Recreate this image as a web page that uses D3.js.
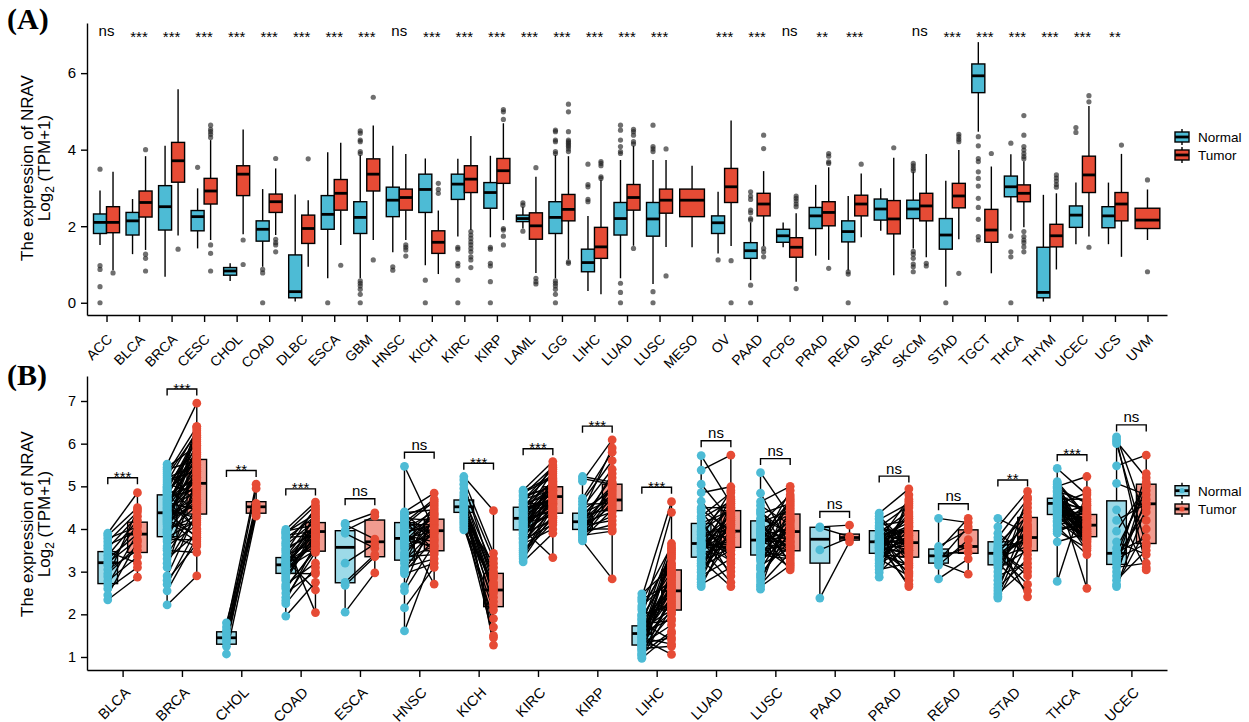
<!DOCTYPE html>
<html lang="en">
<head>
<meta charset="UTF-8">
<title>NRAV expression</title>
<script src="https://cdn.jsdelivr.net/npm/d3@7"></script>
<style>
    body { margin: 0; background: #fff; }
    svg text { font-family: "Liberation Sans", Arial, sans-serif; fill: #000; }
    .tag { font-family: "Liberation Serif", "Times New Roman", serif; font-weight: bold; }
</style>
</head>
<body>
<svg id="chart" width="1249" height="722"></svg>
<script>
// ---------- panel A : all TCGA cancers, unpaired ----------
var cancersA = ["ACC","BLCA","BRCA","CESC","CHOL","COAD","DLBC","ESCA","GBM","HNSC","KICH","KIRC","KIRP",
    "LAML","LGG","LIHC","LUAD","LUSC","MESO","OV","PAAD","PCPG","PRAD","READ","SARC","SKCM","STAD",
    "TGCT","THCA","THYM","UCEC","UCS","UVM"];

// [lower whisker, q1, median, q3, upper whisker]
var normalStatsA = [
    [1.51,1.81,2.10,2.32,2.93],[1.27,1.77,2.14,2.36,2.71],[0.68,1.90,2.51,3.06,4.10],[1.42,1.88,2.25,2.41,2.99],
    [0.57,0.72,0.83,0.92,1.03],[0.94,1.61,1.92,2.14,2.97],[0.03,0.13,0.29,1.25,2.83],[0.64,1.92,2.31,2.80,3.93],
    [0.64,1.81,2.23,2.64,3.86],[1.32,2.25,2.68,3.02,4.10],[0.98,2.36,2.96,3.36,3.77],[1.73,2.70,3.10,3.36,3.76],
    [1.71,2.47,2.88,3.14,3.84],[1.94,2.12,2.20,2.29,2.51],[0.64,1.81,2.23,2.64,3.86],[0.31,0.81,1.05,1.40,2.27],
    [0.64,1.77,2.20,2.62,3.73],[0.49,1.74,2.19,2.62,3.73],null,[1.29,1.81,2.09,2.27,2.90],
    [0.59,1.16,1.36,1.57,2.10],[1.45,1.58,1.75,1.92,2.10],[1.23,1.94,2.27,2.49,3.08],[0.84,1.59,1.86,2.14,2.79],
    [1.88,2.16,2.45,2.71,2.99],[1.42,2.20,2.45,2.68,3.43],[0.42,1.40,1.77,2.20,3.19],[4.47,5.49,5.93,6.24,6.81],
    [1.88,2.77,3.03,3.31,3.88],[0.03,0.13,0.27,1.45,2.82],[1.53,1.97,2.29,2.53,3.14],[1.53,1.96,2.27,2.51,3.14],null
];
var tumorStatsA = [
    [0.85,1.83,2.10,2.51,3.42],[1.38,2.24,2.62,2.92,3.83],[1.76,3.15,3.71,4.19,5.58],[1.64,2.58,2.92,3.25,4.25],
    [1.79,2.80,3.36,3.58,4.53],[1.77,2.36,2.64,2.84,3.51],[0.94,1.55,1.94,2.29,2.68],[1.51,2.42,2.86,3.22,4.18],
    [1.64,2.92,3.36,3.76,4.63],[1.64,2.42,2.75,2.97,3.89],[0.75,1.29,1.58,1.88,2.41],[1.90,2.88,3.23,3.58,4.36],
    [2.16,3.12,3.45,3.77,4.69],[0.78,1.66,2.01,2.35,3.29],[1.13,2.14,2.44,2.83,3.83],[0.22,1.16,1.46,1.97,3.21],
    [1.49,2.42,2.75,3.09,4.10],[1.46,2.34,2.68,2.97,3.73],[1.45,2.25,2.68,2.97,3.58],[1.48,2.62,3.03,3.51,4.76],
    [1.48,2.27,2.58,2.86,3.44],[0.55,1.19,1.45,1.70,2.34],[1.12,2.01,2.36,2.64,3.54],[1.71,2.27,2.58,2.81,3.38],
    [0.72,1.80,2.19,2.67,3.79],[1.19,2.14,2.53,2.86,3.89],[1.66,2.48,2.79,3.12,3.99],[0.77,1.58,1.90,2.44,3.56],
    [1.97,2.64,2.86,3.08,3.70],[0.87,1.46,1.75,2.05,2.86],[1.73,2.88,3.34,3.83,5.14],[1.20,2.14,2.58,2.88,3.89],
    [1.64,1.94,2.16,2.47,2.96]
];
var normalOutA = [
    [3.49,0.97,0.87,0.42,0],[],[],[3.54],[],[0.87,0.78,0],[],[0],
    [4.49,4.43,4.25,4.21,3.95,3.90,0.57,0.51,0.44,0.35,0.22,0],[0.94,0.85],[0.59,0],
    [1.45,1.40,1.03,0.96,0.59,0],[1.45,1.40,1.03,0.96,0.55,0],[2.61,2.55,1.87],
    [4.51,4.47,4.25,4.21,3.95,3.90,0.57,0.51,0.44,0.35,0.22,0],[3.62,3.09,3.03,2.70,2.64],
    [4.64,4.51,4.25,4.08,3.95,3.90,0.51,0.27,0],[4.64,4.08,4.02,3.95,0.29,0],[],[1.12],
    [2.90,2.79,2.70,2.42,2.35,2.20,2.16,0.46,0],[],[],[0.81,0.75,0],[],
    [3.64,3.58,3.51,3.45,1.34,1.27,1.16,1.01,0.94,0.81],[0],
    [4.34,4.10,3.77,3.69,3.42,3.25,3.05,2.73,2.49,2.18,1.73,1.64],[4.17,1.74,1.33,1.20,0],[],[4.58,4.45],[],[]
];
var tumorOutA = [
    [0.78],[4.00,1.27,1.16,0.83],[1.40],[4.64,4.53,4.47,4.40,4.32,1.51,1.29,0.83],[1.64,1.00],
    [3.77,1.66,1.57,1.51,1.33],[3.76],[0.98],[5.37,1.12],[1.51,1.45,1.38,1.22],[3.12,2.96,2.86],
    [1.86,1.77,1.68,1.59,1.51,1.42,1.33,1.20,1.12,0.92],[5.05,4.99,4.79,1.94,1.90,1.74,1.51],
    [3.53,0.64,0.55,0.49],[5.19,4.99,4.47,4.25,4.21,4.17,4.12,4.08,4.02,3.95,1.07,1.03],
    [3.69,3.64,3.58,3.29,3.25],[4.53,4.47,4.38,4.21,4.15,1.42],[4.02,0.70],[],[1.10,0],
    [4.38,4.03,1.42,1.33,1.20],[2.79,2.73,2.66,2.58,2.51,0.37],[3.90,3.83,3.68,3.64,0.90],[3.62],[4.05],
    [1.03,0.96],[4.40,4.34,4.27,4.21,0.77],[3.90],
    [4.89,4.38,4.08,3.99,3.90,3.82,3.76,1.86,1.73,1.64,1.57,1.46,1.33],[3.34,3.26,3.18,3.09,3.02],
    [5.41,5.25,1.45],[4.12],[3.21,0.81]
];
var sigA = ["ns","***","***","***","***","***","***","***","***","ns","***","***","***","***","***","***","***","***",
    "","***","***","ns","**","***","","ns","***","***","***","***","***","**",""];

// ---------- panel B : paired samples ----------
var cancersB = ["BLCA","BRCA","CHOL","COAD","ESCA","HNSC","KICH","KIRC","KIRP","LIHC","LUAD","LUSC",
    "PAAD","PRAD","READ","STAD","THCA","UCEC"];
var normalStatsB = [
    [2.34,2.72,3.21,3.47,3.90],[2.22,3.82,4.38,4.80,5.52],[1.07,1.30,1.45,1.59,1.80],[1.96,2.96,3.16,3.33,3.99],
    [2.05,2.74,3.57,3.96,4.13],[1.61,3.27,3.78,4.15,5.47],[3.98,4.39,4.52,4.68,5.23],[3.23,3.98,4.25,4.51,4.91],
    [3.70,3.99,4.17,4.37,5.23],[0.97,1.28,1.55,1.73,2.48],[2.65,3.34,3.66,4.13,5.72],[2.59,3.39,3.74,4.19,5.32],
    [2.38,3.20,3.76,4.04,4.05],[2.87,3.43,3.70,3.96,4.37],[2.83,3.20,3.37,3.53,4.25],[2.38,3.16,3.43,3.70,4.25],
    [2.77,4.34,4.60,4.72,5.42],[2.65,3.17,3.43,4.66,6.16]
];
var tumorStatsB = [
    [2.87,3.45,3.88,4.16,4.85],[2.90,4.35,5.07,5.63,6.95],[4.29,4.37,4.52,4.64,5.05],[2.04,3.48,3.94,4.15,4.63],
    [2.97,3.35,3.70,4.21,4.38],[2.71,3.49,3.96,4.23,4.84],[1.28,2.18,2.57,2.96,4.43],[3.33,4.37,4.76,4.99,5.58],
    [2.83,4.43,4.68,5.05,6.09],[1.06,2.10,2.55,3.04,4.64],[2.65,3.57,3.95,4.43,5.73],[3.04,3.49,3.94,4.35,5.00],
    [3.70,3.74,3.80,3.88,4.09],[2.65,3.34,3.68,3.96,4.94],[2.94,3.43,3.59,3.98,4.25],[2.41,3.49,3.80,4.27,4.88],
    [2.61,3.82,4.09,4.34,5.23],[3.04,3.66,4.59,5.05,5.73]
];
var sigB = ["***","***","**","***","ns","ns","***","***","***","***","ns","ns","ns","ns","ns","**","***","ns"];
var bracketB = [5.20,7.28,5.37,4.94,4.71,5.80,5.54,5.88,6.41,4.98,6.07,5.65,4.41,5.24,4.59,5.15,5.74,6.44];

// paired values, normal[i] belongs with tumor[i]
var BLCA_N = [3.90,3.85,3.78,3.70,3.62,3.55,3.47,3.38,3.30,3.21,3.15,3.05,2.95,2.88,2.78,2.69,2.60,2.45,2.34];
var BLCA_T = [4.85,4.50,4.05,4.40,3.95,4.30,3.20,4.20,3.88,3.75,4.10,3.50,3.60,4.45,3.35,3.90,3.10,3.70,2.87];
var BRCA_N = [5.52,5.40,5.30,5.20,5.10,5.00,4.95,4.90,4.85,4.80,4.75,4.70,4.65,4.60,4.55,4.50,4.45,4.40,4.38,4.35,
    4.30,4.25,4.20,4.15,4.10,4.00,3.95,3.90,3.85,3.80,3.70,3.60,3.50,3.40,3.30,3.10,2.90,2.70,2.55,2.22,
    5.45,5.35,5.25,5.15,5.05,4.98,4.92,4.88,4.82,4.78,4.72,4.68,4.62,4.58,4.52,4.48,4.42,4.36,4.32,4.28,
    4.22,4.18,4.12,4.05,3.98,3.92,3.75,3.55,3.20,2.80];
var BRCA_T = [6.95,5.60,6.40,5.50,6.30,5.90,4.40,6.20,5.80,5.20,6.10,5.10,4.00,5.70,6.00,5.40,4.90,5.05,3.80,5.30,
    5.60,4.70,3.70,4.60,5.00,4.30,4.80,6.35,3.60,4.20,5.50,4.10,3.45,4.50,3.90,5.20,4.40,4.00,3.80,2.90,
    5.95,4.60,6.25,5.35,4.85,6.05,5.45,3.95,5.75,6.15,4.95,5.25,4.45,5.65,5.85,4.25,5.15,6.40,4.75,5.55,
    3.85,4.65,5.95,4.15,5.35,4.55,3.75,5.00,4.35,3.65];
var CHOL_N = [1.80,1.70,1.62,1.55,1.48,1.42,1.35,1.25,1.07];
var CHOL_T = [4.45,5.05,4.60,4.35,4.95,4.50,4.40,4.55,4.30];
var COAD_N = [3.99,3.95,3.90,3.85,3.78,3.70,3.62,3.55,3.45,3.38,3.32,3.28,3.24,3.20,3.17,3.15,3.12,3.08,3.04,3.00,
    2.96,2.90,2.80,2.70,2.60,2.50,2.40,2.32,2.25,1.96,3.92,3.80,3.66,3.50,3.35,3.22,3.10,2.98,2.85,2.65];
var COAD_T = [4.63,4.10,4.55,3.95,4.30,2.04,4.20,3.90,4.50,3.70,4.05,2.57,3.85,4.15,3.60,3.95,4.00,3.50,3.80,4.40,
    2.95,3.75,3.90,3.20,3.55,3.00,3.45,3.65,3.10,2.75,4.35,3.85,4.45,3.98,4.25,3.65,4.10,3.80,4.00,3.50];
var ESCA_N = [4.13,4.10,3.96,3.90,3.20,2.75,2.68,2.05];
var ESCA_T = [4.38,3.76,4.30,3.55,3.65,3.40,3.35,2.97];
var HNSC_N = [5.47,4.40,4.35,4.30,4.25,4.20,4.15,4.10,4.05,4.00,3.95,3.90,3.85,3.80,3.78,3.75,3.70,3.65,3.55,3.45,
    3.35,3.27,3.20,3.10,3.00,2.95,2.65,2.55,2.15,1.61,4.38,4.22,4.08,3.92,3.82,3.72,3.60,3.40,3.30,3.05];
var HNSC_T = [4.00,4.84,3.80,4.60,4.20,3.50,4.70,4.10,3.90,4.40,2.71,4.25,3.70,4.50,3.95,3.60,4.15,4.30,3.85,4.05,
    3.40,3.96,4.55,3.30,3.75,3.20,4.35,3.65,3.10,3.45,4.45,3.75,4.65,4.10,3.55,4.35,3.90,4.20,3.60,4.00];
var KICH_N = [5.23,5.15,5.05,4.95,4.85,4.78,4.72,4.68,4.64,4.60,4.56,4.52,4.50,4.47,4.44,4.40,4.36,4.30,4.25,4.20,
    4.15,4.10,4.04,3.98];
var KICH_T = [4.43,3.43,2.90,3.30,1.28,2.70,3.10,2.40,2.60,1.50,2.85,2.55,3.00,2.20,1.70,2.50,2.95,2.30,3.20,1.45,
    2.65,2.10,1.90,2.75];
var KIRC_N = [4.91,4.85,4.80,4.75,4.70,4.65,4.60,4.55,4.51,4.48,4.44,4.40,4.36,4.32,4.28,4.25,4.22,4.18,4.15,4.12,
    4.08,4.04,4.00,3.98,3.94,3.90,3.85,3.80,3.75,3.70,3.65,3.60,3.50,3.40,3.30,3.23,
    4.88,4.78,4.68,4.58,4.46,4.42,4.34,4.30,4.20,4.16,4.10,4.06,4.02,3.96,3.88,3.78,3.68,3.55,3.45,3.35];
var KIRC_T = [5.58,5.20,5.45,5.00,4.90,5.30,4.80,5.10,4.95,4.70,5.50,4.85,4.60,5.05,4.75,4.40,4.99,4.65,4.30,4.90,
    4.55,5.15,4.37,3.33,4.78,4.20,4.50,4.72,4.10,4.45,4.00,4.82,4.25,4.60,4.35,3.90,
    5.25,4.98,5.40,4.62,5.12,4.70,4.88,5.35,4.45,5.02,4.58,4.92,4.80,4.38,5.18,4.68,4.28,5.08,4.15,4.50];
var KIRP_N = [5.23,5.18,5.12,4.72,4.65,4.58,4.50,4.45,4.40,4.37,4.33,4.29,4.25,4.21,4.18,4.15,4.12,4.08,4.05,4.02,
    3.99,3.95,3.92,3.88,3.85,3.80,3.76,3.95,4.00,3.72];
var KIRP_T = [5.10,5.05,6.09,5.80,5.60,4.60,5.40,4.90,5.90,4.70,5.00,4.50,5.20,4.80,4.68,4.40,5.30,4.20,4.95,4.55,
    4.30,5.05,4.10,4.75,3.95,4.65,4.45,4.85,4.00,2.83];
var LIHC_N = [2.48,2.40,2.30,2.20,2.10,2.00,1.95,1.90,1.85,1.80,1.75,1.70,1.66,1.62,1.58,1.55,1.52,1.49,1.46,1.42,
    1.38,1.34,1.30,1.27,1.24,1.20,1.16,1.12,1.08,1.04,1.00,0.97,1.60,1.45,1.35,1.25,
    2.35,2.15,1.98,1.88,1.78,1.68,1.56,1.48,1.40,1.32,1.18,1.06];
var LIHC_T = [3.10,4.64,3.60,2.80,3.40,2.20,3.00,4.39,2.60,1.40,3.66,2.50,2.10,3.20,2.90,1.90,2.70,3.30,2.40,1.06,
    2.55,3.50,1.75,2.30,2.95,1.25,2.00,3.05,1.60,2.45,2.15,1.55,2.85,1.30,2.65,3.45,
    2.75,3.35,2.25,3.15,1.85,2.60,3.55,2.05,2.90,1.45,3.00,2.35];
var LUAD_N = [5.72,5.38,5.05,4.85,4.65,4.50,4.40,4.30,4.20,4.13,4.05,3.98,3.92,3.86,3.80,3.75,3.70,3.66,3.62,3.58,
    3.54,3.50,3.45,3.40,3.34,3.28,3.20,3.12,3.05,2.98,2.90,2.82,2.75,2.70,2.65,3.60,
    4.45,4.25,4.10,3.95,3.88,3.78,3.68,3.64,3.56,3.48,3.38,3.25,3.15,3.00,2.85];
var LUAD_T = [4.60,5.73,4.20,4.99,3.80,4.50,3.60,4.85,3.20,4.43,2.90,4.70,3.95,4.10,3.40,4.30,3.00,3.95,4.55,3.70,
    2.75,4.00,3.57,4.40,3.85,2.65,4.15,3.50,3.90,4.60,3.30,4.25,3.75,3.10,4.05,3.65,
    3.95,4.65,3.40,4.45,3.80,4.90,3.25,4.20,3.60,4.35,4.75,3.55,4.10,3.90,4.50];
var LUSC_N = [5.32,4.84,4.64,4.55,4.45,4.35,4.25,4.19,4.12,4.05,3.98,3.92,3.86,3.80,3.76,3.74,3.70,3.65,3.60,3.55,
    3.50,3.45,3.39,3.33,3.25,3.15,3.05,2.95,2.85,2.78,2.70,2.65,2.59,3.90,3.62,4.00,
    4.40,4.15,3.95,3.84,3.72,3.58,3.48,3.30,3.10,2.90];
var LUSC_T = [4.30,3.60,5.00,4.10,3.40,4.60,3.90,3.20,4.80,3.70,4.35,3.04,4.00,4.50,3.80,3.94,3.49,4.20,3.10,4.70,
    3.65,4.05,3.30,4.40,3.85,3.55,4.15,3.75,3.95,4.25,3.45,3.15,4.55,3.60,4.90,3.25,
    3.85,4.45,3.55,4.65,3.70,4.20,3.35,4.00,4.75,3.95];
var PAAD_N = [4.05,4.03,3.51,2.38];
var PAAD_T = [4.09,3.82,3.80,3.70];
var PRAD_N = [4.37,4.30,4.22,4.15,4.08,4.02,3.96,3.92,3.88,3.84,3.80,3.77,3.74,3.71,3.70,3.68,3.65,3.62,3.59,3.56,
    3.52,3.48,3.44,3.40,3.35,3.30,3.25,3.20,3.12,3.05,2.98,2.87,3.60,3.85,3.55,3.75,
    4.25,4.05,3.95,3.82,3.76,3.69,3.64,3.57,3.50,3.42,3.28,3.15];
var PRAD_T = [4.94,3.60,4.60,3.30,4.20,3.90,2.80,4.40,3.70,4.05,3.10,3.96,4.70,3.50,3.68,2.65,4.10,3.80,3.40,4.30,
    3.00,3.75,4.50,3.34,3.85,2.90,4.00,3.55,4.15,3.20,3.65,4.80,2.70,3.95,3.45,4.25,
    3.50,4.55,3.25,4.15,3.85,2.95,4.35,3.60,4.05,3.15,3.75,4.65];
var READ_N = [4.25,3.59,3.50,3.43,3.31,3.25,3.21,3.15,2.83];
var READ_T = [4.15,3.98,4.25,3.45,3.59,4.05,2.94,3.75,3.30];
var STAD_N = [4.25,4.05,3.90,3.80,3.72,3.66,3.60,3.55,3.50,3.46,3.43,3.40,3.36,3.32,3.28,3.24,3.20,3.16,3.10,3.00,
    2.90,2.80,2.70,2.62,2.55,2.48,2.42,2.38,3.52,3.38];
var STAD_T = [3.90,4.88,3.40,4.70,2.41,4.30,3.70,4.50,3.00,4.10,3.80,2.70,4.60,3.60,4.20,3.95,2.55,4.00,3.50,4.40,
    3.20,4.75,3.85,3.30,4.27,3.10,4.05,3.65,2.90,3.75];
var THCA_N = [5.42,5.11,5.05,5.00,4.95,4.90,4.85,4.80,4.76,4.72,4.69,4.66,4.63,4.60,4.58,4.55,4.52,4.49,4.46,4.43,
    4.40,4.37,4.34,4.30,4.25,4.20,4.15,4.10,4.05,4.00,3.95,3.90,3.70,2.77,4.62,4.50,
    5.08,4.98,4.88,4.78,4.70,4.64,4.57,4.53,4.47,4.41,4.35,4.28,4.18,4.08,3.98];
var THCA_T = [4.80,4.30,3.80,5.23,4.60,3.60,4.40,2.61,4.10,3.90,4.70,4.00,3.70,4.20,4.50,3.85,4.09,3.50,4.34,4.15,
    3.95,3.75,4.25,3.82,4.45,3.65,4.05,4.55,3.40,4.12,3.55,4.35,3.90,4.90,4.00,3.78,
    4.25,3.70,4.65,4.00,4.40,3.85,4.85,3.60,4.18,3.95,4.55,3.75,4.30,3.88,4.10];
var UCEC_N = [6.16,6.10,6.05,6.00,5.48,5.07,4.45,4.20,3.95,3.70,3.55,3.45,3.40,3.35,3.30,3.25,3.20,3.10,3.00,2.90,
    2.80,2.70,2.65];
var UCEC_T = [4.20,3.10,5.20,3.60,5.73,4.80,3.04,4.59,5.00,3.40,4.90,3.80,5.10,4.40,3.66,4.60,5.30,3.20,4.70,5.05,
    3.50,4.00,4.50];

var pairedN = [BLCA_N,BRCA_N,CHOL_N,COAD_N,ESCA_N,HNSC_N,KICH_N,KIRC_N,KIRP_N,LIHC_N,LUAD_N,LUSC_N,PAAD_N,PRAD_N,READ_N,STAD_N,THCA_N,UCEC_N];
var pairedT = [BLCA_T,BRCA_T,CHOL_T,COAD_T,ESCA_T,HNSC_T,KICH_T,KIRC_T,KIRP_T,LIHC_T,LUAD_T,LUSC_T,PAAD_T,PRAD_T,READ_T,STAD_T,THCA_T,UCEC_T];

var colN = "#4DBBD5", colT = "#E64B35";

(function(){
    var svg = d3.select("#chart");

    // draws one box-and-whisker glyph
    function drawBox(g, cx, w, s, y, fill, fop){
        g.append("line").attr("x1",cx).attr("x2",cx).attr("y1",y(s[4])).attr("y2",y(s[3]))
            .attr("stroke","#000").attr("stroke-width",1.4);
        g.append("line").attr("x1",cx).attr("x2",cx).attr("y1",y(s[1])).attr("y2",y(s[0]))
            .attr("stroke","#000").attr("stroke-width",1.4);
        g.append("rect").attr("x",cx-w/2).attr("y",y(s[3])).attr("width",w).attr("height",y(s[1])-y(s[3]))
            .attr("fill",fill).attr("fill-opacity",fop).attr("stroke","#000").attr("stroke-width",1.4);
        g.append("line").attr("x1",cx-w/2).attr("x2",cx+w/2).attr("y1",y(s[2])).attr("y2",y(s[2]))
            .attr("stroke","#000").attr("stroke-width",2.8);
    }

    function styleAxis(g, size){
        g.attr("font-family",null).attr("font-size",size);
        g.select(".domain").attr("stroke","#000").attr("stroke-width",1.4);
        g.selectAll(".tick line").attr("stroke","#000").attr("stroke-width",1.4);
        g.selectAll(".tick text").attr("fill","#000");
    }

    function yTitle(cy){
        svg.append("text").attr("transform","translate(33,"+cy+") rotate(-90)")
            .attr("text-anchor","middle").attr("font-size",17).attr("fill","#000").text("The expression of NRAV");
        var t2 = svg.append("text").attr("transform","translate(50,"+cy+") rotate(-90)")
            .attr("text-anchor","middle").attr("font-size",17).attr("fill","#000");
        t2.append("tspan").text("Log");
        t2.append("tspan").attr("font-size",12).attr("dy",4).text("2");
        t2.append("tspan").attr("dy",-4).text(" (TPM+1)");
    }

    // ================= panel A =================
    var xA = d3.scalePoint().domain(cancersA).range([87,1167]).padding(0.6);
    var stepA = xA.step();
    var yA = d3.scaleLinear().domain([-0.32,7.31]).range([315,23]);

    var gA = svg.append("g");
    cancersA.forEach(function(c,i){
        var x = xA(c);
        var single = !normalStatsA[i];
        var bw = single ? stepA*0.76 : stepA*0.4;
        if(!single){
            var cn = x - stepA*0.2;
            drawBox(gA, cn, bw, normalStatsA[i], yA, colN, 1);
            normalOutA[i].forEach(function(v){
                gA.append("circle").attr("cx",cn).attr("cy",yA(v)).attr("r",2.6)
                    .attr("fill","#222").attr("fill-opacity",0.65);
            });
        }
        var ct = single ? x : x + stepA*0.2;
        drawBox(gA, ct, bw, tumorStatsA[i], yA, colT, 1);
        tumorOutA[i].forEach(function(v){
            gA.append("circle").attr("cx",ct).attr("cy",yA(v)).attr("r",2.6)
                .attr("fill","#222").attr("fill-opacity",0.65);
        });
        if(sigA[i]){
            gA.append("text").attr("x",x).attr("y",sigA[i]=="ns" ? 36 : 41.5).attr("fill","#000")
                .attr("text-anchor","middle").attr("font-size",15).text(sigA[i]);
        }
    });

    var axAy = svg.append("g").attr("transform","translate(87,0)")
        .call(d3.axisLeft(yA).tickValues([0,2,4,6]).tickFormat(d3.format("d")).tickSize(6).tickSizeOuter(0).tickPadding(5));
    styleAxis(axAy, 15);
    var axAx = svg.append("g").attr("transform","translate(0,315)")
        .call(d3.axisBottom(xA).tickSize(7).tickSizeOuter(0));
    styleAxis(axAx, 14);
    axAx.selectAll(".tick text").attr("x",0).attr("y",0).attr("dy","0.72em")
        .attr("text-anchor","end").attr("transform","translate(-1,18) rotate(-45)");

    yTitle(168);

    // legend A
    var legA = svg.append("g");
    [["Normal",colN,137],["Tumor",colT,155]].forEach(function(d){
        drawBox(legA, 1182, 14, [d[2]+8,d[2]+5,d[2],d[2]-5,d[2]-8], function(v){return v;}, d[1], 1);
        legA.append("text").attr("x",1198).attr("y",d[2]).attr("dy","0.36em").attr("font-size",13.5)
            .attr("fill","#000").text(d[0]);
    });

    svg.append("text").attr("class","tag").attr("x",7).attr("y",29).attr("font-size",30).text("(A)");

    // ================= panel B =================
    var xB = d3.scalePoint().domain(cancersB).range([87,1167]).padding(0.6);
    var stepB = xB.step();
    var yB = d3.scaleLinear().domain([0.695,7.586]).range([670,376]);
    var off = stepB*0.25, bwB = stepB*0.33;

    var gB = svg.append("g");
    var gBox = gB.append("g"), gLine = gB.append("g"), gPt = gB.append("g"), gSig = gB.append("g");
    cancersB.forEach(function(c,i){
        var xn = xB(c) - off, xt = xB(c) + off;
        drawBox(gBox, xn, bwB, normalStatsB[i], yB, colN, 0.55);
        drawBox(gBox, xt, bwB, tumorStatsB[i], yB, colT, 0.55);
        pairedN[i].forEach(function(v,j){
            gLine.append("line").attr("x1",xn).attr("y1",yB(v)).attr("x2",xt).attr("y2",yB(pairedT[i][j]))
                .attr("stroke","#000").attr("stroke-width",1.4);
        });
        pairedN[i].forEach(function(v){
            gPt.append("circle").attr("cx",xn).attr("cy",yB(v)).attr("r",4.4).attr("fill",colN);
        });
        pairedT[i].forEach(function(v){
            gPt.append("circle").attr("cx",xt).attr("cy",yB(v)).attr("r",4.4).attr("fill",colT);
        });
        var by = yB(bracketB[i]);
        gSig.append("path").attr("d","M"+xn+","+(by+6.5)+"V"+by+"H"+xt+"V"+(by+6.5))
            .attr("fill","none").attr("stroke","#000").attr("stroke-width",1.4);
        gSig.append("text").attr("x",xB(c)).attr("y",sigB[i]=="ns" ? by-2.5 : by+4.5).attr("fill","#000")
            .attr("text-anchor","middle").attr("font-size",15).text(sigB[i]);
    });

    var axBy = svg.append("g").attr("transform","translate(87,0)")
        .call(d3.axisLeft(yB).tickValues([1,2,3,4,5,6,7]).tickFormat(d3.format("d")).tickSize(6).tickSizeOuter(0).tickPadding(5));
    styleAxis(axBy, 14.5);
    var axBx = svg.append("g").attr("transform","translate(0,670)")
        .call(d3.axisBottom(xB).tickSize(7).tickSizeOuter(0));
    styleAxis(axBx, 14.5);
    axBx.selectAll(".tick text").attr("x",0).attr("y",0).attr("dy","0.72em")
        .attr("text-anchor","end").attr("transform","translate(0.5,16) rotate(-45)");

    yTitle(524);

    // legend B
    var legB = svg.append("g");
    [["Normal",colN,490.7],["Tumor",colT,509]].forEach(function(d){
        drawBox(legB, 1182, 14, [d[2]+8,d[2]+5,d[2],d[2]-5,d[2]-8], function(v){return v;}, d[1], 0.55);
        legB.append("circle").attr("cx",1182).attr("cy",d[2]).attr("r",2.6).attr("fill",d[1]);
        legB.append("text").attr("x",1198).attr("y",d[2]).attr("dy","0.36em").attr("font-size",13.5)
            .attr("fill","#000").text(d[0]);
    });

    svg.append("text").attr("class","tag").attr("x",7).attr("y",385).attr("font-size",30).text("(B)");
}());
</script>
</body>
</html>
